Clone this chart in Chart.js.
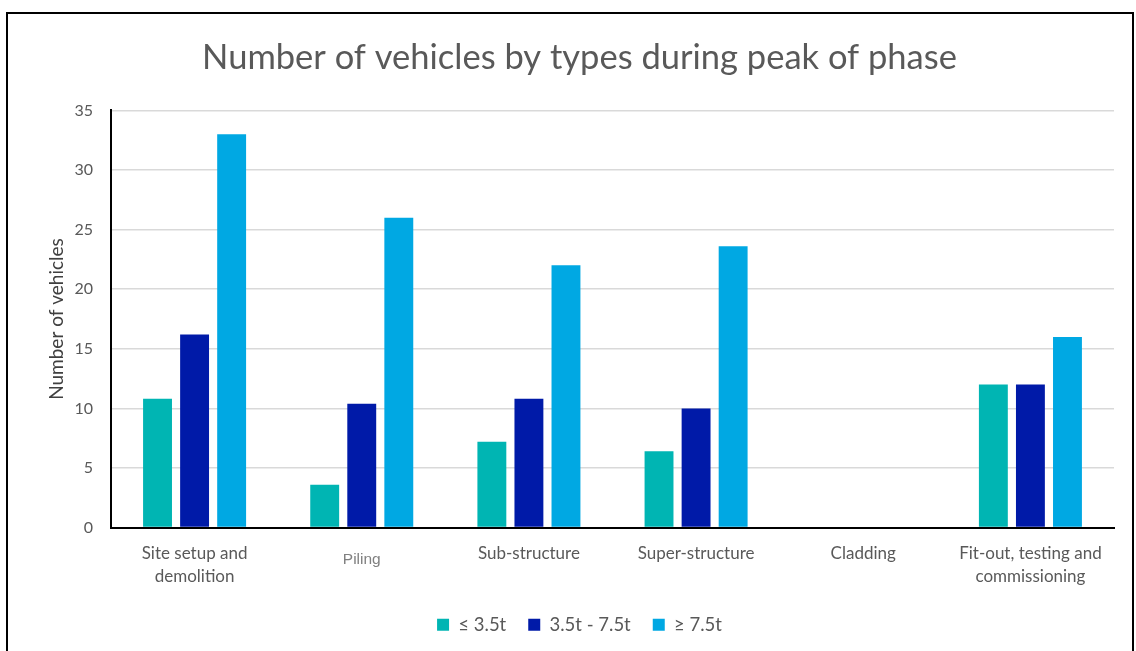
<!DOCTYPE html>
<html>
<head>
<meta charset="utf-8">
<script src="https://cdn.jsdelivr.net/npm/chart.js@4.4.1/dist/chart.umd.min.js"></script>
<style>
  body { margin: 0; background: #fff; }
  #frame { position: absolute; left: 6px; top: 12px; width: 1124px; height: 660px;
           border: 2px solid #000; border-bottom: none; }
  #wrap { position: absolute; left: 0; top: 0; width: 1136px; height: 651px; }
</style>
</head>
<body>
<div id="frame"></div>
<div id="wrap"><canvas id="barchart"></canvas></div>
<script>
var phases = [
    ['Site setup and', 'demolition'],
    'Piling',
    'Sub-structure',
    'Super-structure',
    'Cladding',
    ['Fit-out, testing and', 'commissioning']
];
var seriesNames = ['\u2264 3.5t', '3.5t - 7.5t', '\u2265 7.5t'];
var light = [10.8, 3.6, 7.2, 6.4, 0, 12];
var medium = [16.2, 10.4, 10.8, 10.0, 0, 12];
var heavy = [33, 26, 22, 23.6, 0, 16];
var yTicks = [0, 5, 10, 15, 20, 25, 30, 35];

var colours = ['#00B5B3', '#001AA8', '#00A8E3'];

function renderBarChart()
{
    var ctx = document.getElementById('barchart').getContext('2d');
    var values = [light, medium, heavy];
    var datasets = [];
    for (var i in values) {
        datasets.push({
            label: seriesNames[i],
            data: values[i],
            backgroundColor: colours[i],
            borderWidth: 0,
            categoryPercentage: 0.665,
            barPercentage: 0.78
        });
    }

    new Chart(ctx, {
        type: 'bar',
        data: { labels: phases, datasets: datasets },
        options: {
            responsive: true,
            maintainAspectRatio: false,
            animation: false,
            layout: { padding: { left: 45, right: 22, top: 30, bottom: 7 } },
            plugins: {
                title: {
                    display: true,
                    text: 'Number of vehicles by types during peak of phase',
                    color: '#595959',
                    font: { family: 'Lato', size: 34.5, weight: 'normal' },
                    padding: { top: 7, bottom: 32 }
                },
                legend: {
                    position: 'bottom',
                    labels: {
                        color: '#595959',
                        font: { family: 'Lato', size: 18.5 },
                        boxWidth: 12,
                        boxHeight: 12,
                        padding: 22
                    }
                },
                tooltip: { enabled: false }
            },
            scales: {
                x: {
                    grid: { display: false },
                    border: { color: '#000', width: 2 },
                    ticks: {
                        padding: 6,
                        color: function(c) { return c.index === 1 ? '#808080' : '#595959'; },
                        font: function(c) {
                            if (c.index === 1) return { family: 'Liberation Sans', size: 15.5, lineHeight: 2.3 };
                            return { family: 'Lato', size: 17, lineHeight: 1.35 };
                        }
                    }
                },
                y: {
                    min: 0,
                    max: 35,
                    afterBuildTicks: function(axis) {
                        axis.ticks = yTicks.map(function(v) { return { value: v }; });
                    },
                    afterFit: function(axis) { axis.width = 66; },
                    grid: { color: '#d9d9d9', lineWidth: 1.5, drawTicks: false },
                    border: { color: '#000', width: 2 },
                    ticks: {
                        padding: 18,
                        color: '#595959',
                        font: { family: 'Lato', size: 16 }
                    },
                    title: {
                        display: true,
                        text: 'Number of vehicles',
                        color: '#404040',
                        font: { family: 'Lato', size: 19 },
                        padding: { top: 0, bottom: 0 }
                    }
                }
            }
        }
    });
}

renderBarChart();
</script>
</body>
</html>
